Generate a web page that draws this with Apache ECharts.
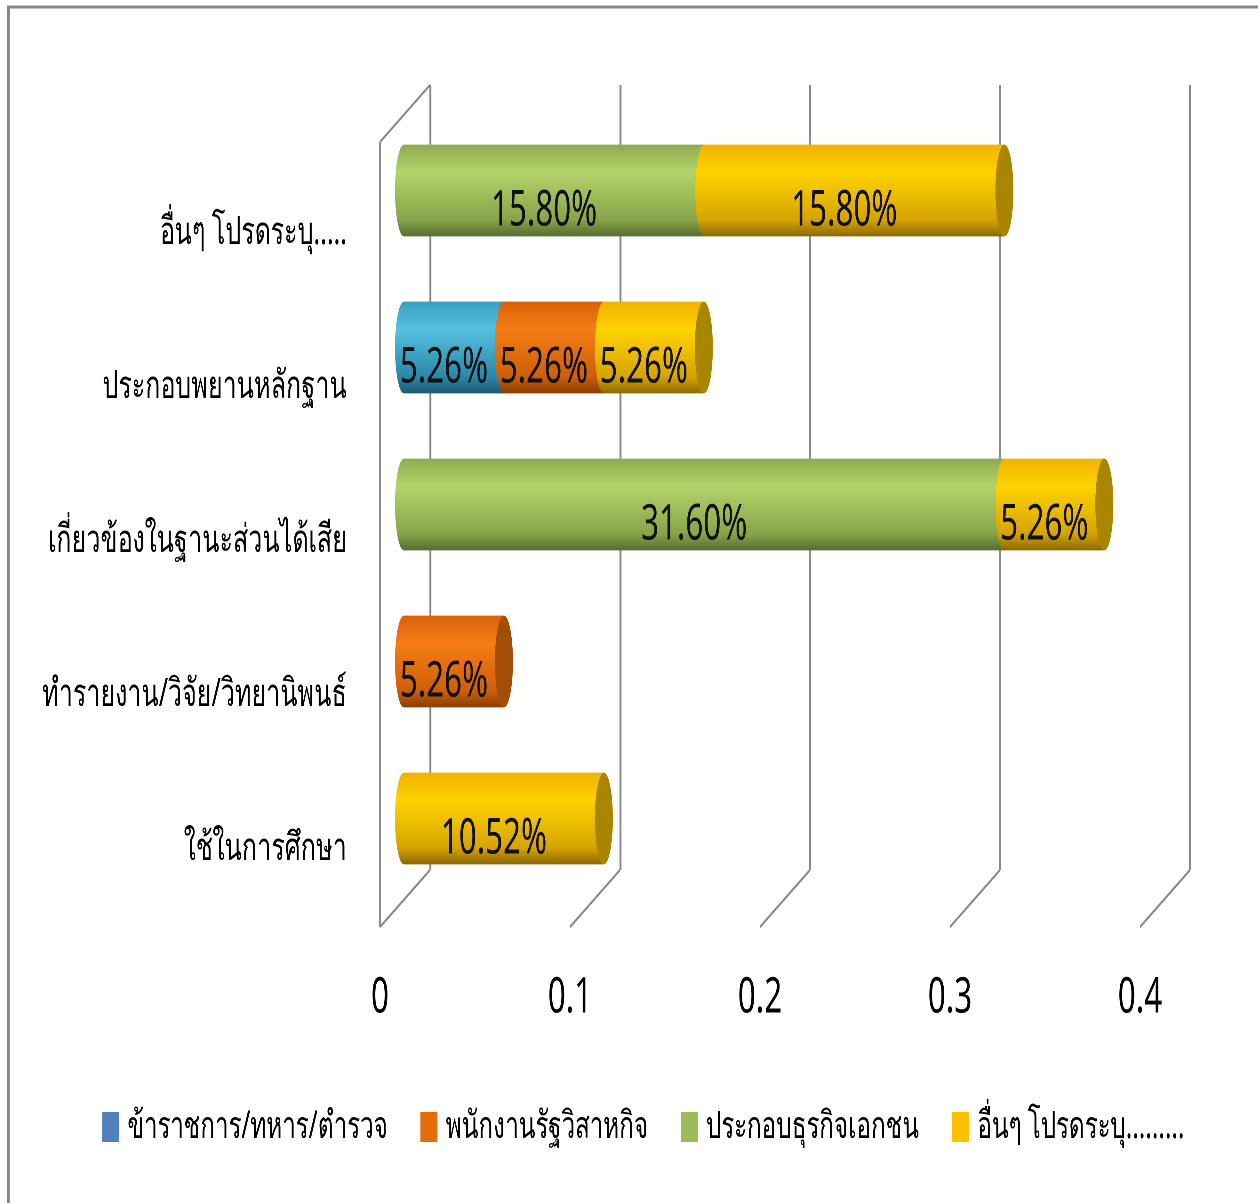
<!DOCTYPE html>
<html>
<head>
<meta charset="utf-8">
<script src="https://cdn.jsdelivr.net/npm/echarts@6/dist/echarts.min.js"></script>
<style>
html,body{margin:0;padding:0;background:#fff;overflow:hidden;}
#wrap{width:1258px;height:1203px;overflow:hidden;position:relative;}
#c{width:1966px;height:1203px;transform:scaleX(0.64);transform-origin:0 0;position:absolute;left:0;top:0;}
</style>
</head>
<body>
<div id="wrap"><div id="c"></div></div>
<script>
// ---- data ----
const categories = ['ใช้ในการศึกษา', 'ทำรายงาน/วิจัย/วิทยานิพนธ์', 'เกี่ยวข้องในฐานะส่วนได้เสีย', 'ประกอบพยานหลักฐาน', 'อื่นๆ โปรดระบุ.....'];
const seriesNames = ['ข้าราชการ/ทหาร/ตำรวจ', 'พนักงานรัฐวิสาหกิจ', 'ประกอบธุรกิจเอกชน', 'อื่นๆ โปรดระบุ.........'];
const govValues = [0, 0, 0, 0.0526, 0];
const stateValues = [0, 0.0526, 0, 0.0526, 0];
const privateValues = [0, 0, 0.316, 0, 0.158];
const otherValues = [0.1052, 0, 0.0526, 0.0526, 0.158];
const axisTicks = [0, 0.1, 0.2, 0.3, 0.4];

// ---- styles / layout ----
const S = 0.64;                 // horizontal condensation of the whole drawing
const X = px => px / S;         // screen px -> drawing px
const legendColors = ['#4F81BD', '#E36C09', '#9BBB59', '#FFC000'];
const bodyStops = [
  ['#3a9fc2', '#55c1e0', '#2b88aa', '#1c5a72'],
  ['#d8620a', '#f77d14', '#cc5f08', '#8a3f05'],
  ['#8fab50', '#b3d46b', '#89a449', '#566d30'],
  ['#efb300', '#ffd300', '#d6a400', '#8c6900']
];
const capColors = ['#2a8aab', '#a24e09', '#7c963d', '#a98500'];
const FONT = '"Noto Sans", sans-serif';
const DEPTH_X = X(-50), DEPTH_Y = 57;
const LINE = '#8a8a8a';

const allValues = [govValues, stateValues, privateValues, otherValues];

function buildData(si) {
  const out = [];
  for (let i = 0; i < categories.length; i++) {
    let start = 0;
    for (let k = 0; k < si; k++) start += allValues[k][i];
    const v = allValues[si][i];
    if (v > 0) out.push([start, start + v, i, v]);
  }
  return out;
}

function grad(si) {
  const s = bodyStops[si];
  return new echarts.graphic.LinearGradient(0, 0, 0, 1, [
    {offset: 0, color: s[0]}, {offset: 0.3, color: s[1]},
    {offset: 0.82, color: s[2]}, {offset: 1, color: s[3]}
  ]);
}

function makeBarRender(si) {
  return function (params, api) {
    const a = api.coord([api.value(0), api.value(2)]);
    const b = api.coord([api.value(1), api.value(2)]);
    const h = api.size([0, 1])[1] * 0.585;
    const ry = h / 2, rx = X(9);
    const y0 = a[1] - ry;
    const label = (api.value(3) * 100).toFixed(2) + '%';
    return {
      type: 'group',
      children: [
        {type: 'ellipse', shape: {cx: a[0], cy: a[1], rx: rx, ry: ry}, style: {fill: grad(si)}},
        {type: 'rect', shape: {x: a[0], y: y0, width: b[0] - a[0], height: h}, style: {fill: grad(si)}},
        {type: 'ellipse', shape: {cx: b[0], cy: b[1], rx: rx, ry: ry}, style: {fill: capColors[si]}},
        {type: 'text', x: (a[0] + b[0]) / 2 - X(10), y: a[1] + 21, z2: 10,
          style: {text: label, x: 0, y: 0, align: 'center', verticalAlign: 'middle',
            font: '49px ' + FONT, fill: '#111'}}
      ]
    };
  };
}

function frameRender(params, api) {
  const v = api.value(0);
  const p0 = api.coord([v, 0]);
  const st = {stroke: LINE, lineWidth: 2.6};
  const children = [{
    type: 'line',
    shape: {x1: p0[0], y1: p0[1], x2: p0[0] + DEPTH_X, y2: p0[1] + DEPTH_Y}, style: st
  }];
  if (v === 0) {
    const p1 = api.coord([v, 1]);
    children.push({type: 'line', shape: {x1: p1[0], y1: p1[1], x2: p1[0] + DEPTH_X, y2: p1[1] + DEPTH_Y}, style: st});
    children.push({type: 'line', shape: {x1: p1[0] + DEPTH_X, y1: p1[1] + DEPTH_Y, x2: p0[0] + DEPTH_X, y2: p0[1] + DEPTH_Y},
      style: {stroke: LINE, lineWidth: 3}});
  }
  return {type: 'group', children: children};
}

const chart = echarts.init(document.getElementById('c'), null, {devicePixelRatio: 2});

const series = [{
  type: 'custom', name: 'frame', xAxisIndex: 0, yAxisIndex: 0,
  data: axisTicks.map(t => [t]), renderItem: frameRender, silent: true, z: 1
}];
for (let si = 0; si < seriesNames.length; si++) {
  series.push({
    type: 'custom', name: seriesNames[si], xAxisIndex: 1, yAxisIndex: 1,
    itemStyle: {color: legendColors[si]},
    encode: {x: [0, 1], y: 2},
    data: buildData(si), renderItem: makeBarRender(si), z: 3
  });
}

chart.setOption({
  backgroundColor: '#fff',
  animation: false,
  graphic: [
    {type: 'line', shape: {x1: X(8.5), y1: 5.5, x2: X(8.5), y2: 1203}, style: {stroke: '#878787', lineWidth: X(3)}, silent: true},
    {type: 'line', shape: {x1: X(7), y1: 7, x2: X(1258), y2: 7}, style: {stroke: '#878787', lineWidth: 3}, silent: true}
  ],
  legend: {
    data: seriesNames, top: 1103, left: X(99), width: X(1150), itemGap: X(33),
    itemWidth: X(17), itemHeight: 30, icon: 'rect',
    textStyle: {fontFamily: FONT, fontSize: 38, color: '#000', padding: [0, 0, 0, X(5)]}
  },
  grid: [
    {left: X(430), width: X(760), top: 85, height: 785},
    {left: X(404), width: X(760), top: 112, height: 785},
    {left: X(380), width: X(760), top: 156, height: 770}
  ],
  xAxis: [
    {gridIndex: 0, type: 'value', min: 0, max: 0.4, interval: 0.1,
      axisLabel: {show: false}, axisLine: {show: false}, axisTick: {show: false},
      splitLine: {show: true, lineStyle: {color: LINE, width: X(2)}}},
    {gridIndex: 1, type: 'value', min: 0, max: 0.4, interval: 0.1, show: false},
    {gridIndex: 2, type: 'value', min: 0, max: 0.4, interval: 0.1,
      axisLine: {show: false}, axisTick: {show: false}, splitLine: {show: false},
      axisLabel: {margin: 48, fontFamily: FONT, fontSize: 49, color: '#000',
        formatter: v => String(+v.toFixed(1))}}
  ],
  yAxis: [
    {gridIndex: 0, type: 'value', min: 0, max: 1, show: false},
    {gridIndex: 1, type: 'category', data: categories, show: false},
    {gridIndex: 2, type: 'category', data: categories,
      axisLine: {show: false}, axisTick: {show: false}, splitLine: {show: false},
      axisLabel: {margin: X(33), fontFamily: FONT, fontSize: 39, color: '#000'}}
  ],
  series: series
});
</script>
</body>
</html>
